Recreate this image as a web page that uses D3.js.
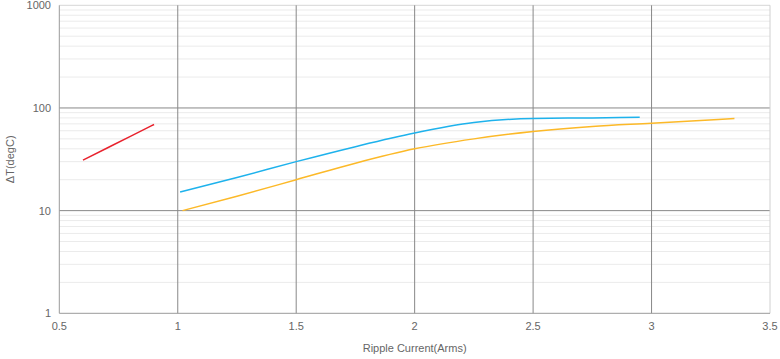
<!DOCTYPE html>
<html><head><meta charset="utf-8">
<script src="https://cdn.jsdelivr.net/npm/d3@7"></script>
<style>body{margin:0;background:#fff}svg{display:block;font-family:Arial,"Liberation Sans",sans-serif}</style>
</head><body><svg id="c" width="780" height="359"></svg>
<script>
const xTicks = [0.5, 1, 1.5, 2, 2.5, 3, 3.5];
const yTicks = [1, 10, 100, 1000];
const redX = [0.6, 0.7, 0.8, 0.9];
const redY = [31, 40.5, 52.9, 69];
const blueX = [1.01, 1.25, 1.5, 1.75, 2.0, 2.25, 2.5, 2.75, 2.95];
const blueY = [15.2, 21, 30, 42, 57, 72, 79, 80, 81];
const orangeX = [1.02, 1.25, 1.5, 1.75, 2.0, 2.25, 2.5, 2.75, 3.0, 3.35];
const orangeY = [10, 13.8, 20, 29, 40, 50, 59, 66, 71, 79];

const svg = d3.select('#c');
const L = 59.3, R = 770, T = 5.3, B = 313.3;
const x = d3.scaleLinear().domain([0.5, 3.5]).range([L, R]);
const y = d3.scaleLog().domain([1, 1000]).range([B, T]);

const minor = [];
for (let d = 1; d < 1000; d *= 10) for (let k = 2; k <= 9; k++) minor.push(d * k);
svg.append('g').selectAll('line').data(minor).join('line')
  .attr('x1', L).attr('x2', R).attr('y1', d => y(d)).attr('y2', d => y(d))
  .attr('stroke', '#ebebeb').attr('stroke-width', 1);
svg.append('line').attr('x1', L).attr('x2', R).attr('y1', y(1000)).attr('y2', y(1000)).attr('stroke', '#d6d6d6');
svg.append('g').selectAll('line').data([10, 100]).join('line')
  .attr('x1', L).attr('x2', R).attr('y1', d => y(d)).attr('y2', d => y(d))
  .attr('stroke', '#888').attr('stroke-width', 1);
svg.append('g').selectAll('line').data(xTicks.slice(1, -1)).join('line')
  .attr('x1', d => x(d)).attr('x2', d => x(d)).attr('y1', T).attr('y2', B)
  .attr('stroke', '#888').attr('stroke-width', 1);
svg.append('line').attr('x1', R).attr('x2', R).attr('y1', T).attr('y2', B).attr('stroke', '#d0d0d0');
svg.append('line').attr('x1', L).attr('x2', L).attr('y1', T).attr('y2', B).attr('stroke', '#9a9a9a');
svg.append('line').attr('x1', L).attr('x2', R).attr('y1', B).attr('y2', B).attr('stroke', '#9a9a9a');

svg.append('g').selectAll('text').data(yTicks).join('text')
  .attr('x', 51).attr('y', d => y(d) + 4).attr('text-anchor', 'end')
  .attr('font-size', 11).attr('fill', '#666').text(d => d);
svg.append('g').selectAll('text').data(xTicks).join('text')
  .attr('x', d => x(d)).attr('y', 330).attr('text-anchor', 'middle')
  .attr('font-size', 11).attr('fill', '#666').text(d => d);

svg.append('text').attr('x', x(2)).attr('y', 352).attr('text-anchor', 'middle')
  .attr('font-size', 11).attr('fill', '#666').text('Ripple Current(Arms)');
svg.append('text').attr('transform', `translate(14,${(T + B) / 2}) rotate(-90)`)
  .attr('text-anchor', 'middle').attr('font-size', 11).attr('fill', '#666').text('ΔT(degC)');

const line = d3.line().x(d => x(d[0])).y(d => y(d[1])).curve(d3.curveMonotoneX);
const series = [
  [redX, redY, '#e8232e'],
  [blueX, blueY, '#1eb2ec'],
  [orangeX, orangeY, '#fcb928']
];
series.forEach(([xs, ys, c]) => {
  svg.append('path').datum(xs.map((v, i) => [v, ys[i]]))
    .attr('d', line).attr('fill', 'none').attr('stroke', c).attr('stroke-width', 1.5);
});
</script></body></html>
